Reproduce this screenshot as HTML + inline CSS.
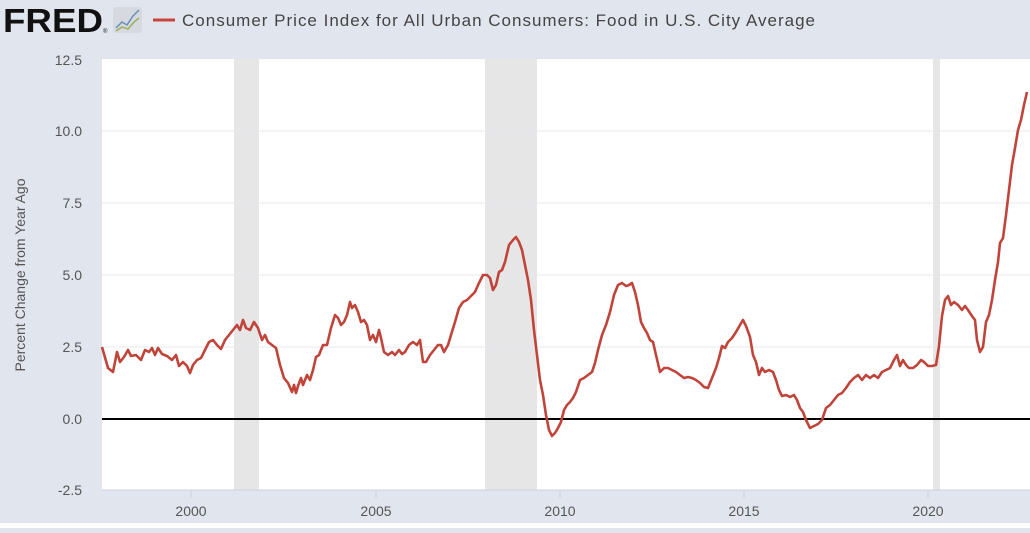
<!DOCTYPE html>
<html><head><meta charset="utf-8"><style>
body{margin:0;width:1030px;height:528px;background:#e1e5ee;font-family:"Liberation Sans",sans-serif;overflow:hidden}
</style></head><body>
<svg width="1030" height="528" viewBox="0 0 1030 528" xmlns="http://www.w3.org/2000/svg">
<rect width="1030" height="528" fill="#e1e5ee"/>
<rect x="0" y="523" width="1030" height="5" fill="#fff"/>
<text x="3" y="32" font-size="33" font-weight="bold" fill="#111" textLength="100" lengthAdjust="spacingAndGlyphs">FRED</text>
<text x="103" y="33" font-size="6" fill="#111">®</text>
<rect x="113" y="7" width="29" height="26" rx="3" fill="#d6d9df"/>
<polyline points="116,28 122,22 127,25 133,16 139,10" fill="none" stroke="#6b8fb5" stroke-width="1.5"/>
<polyline points="116,31 122,27 128,29 134,22 139,18" fill="none" stroke="#9bb05a" stroke-width="1.5"/>
<line x1="153" y1="20" x2="175" y2="20" stroke="#c9463d" stroke-width="3"/>
<text x="182" y="26" font-size="17" fill="#444" textLength="633" lengthAdjust="spacing">Consumer Price Index for All Urban Consumers: Food in U.S. City Average</text>
<rect x="102" y="59" width="928" height="431" fill="#fff"/>
<rect x="234" y="59" width="25" height="431" fill="#e6e6e6"/>
<rect x="485" y="59" width="52" height="431" fill="#e6e6e6"/>
<rect x="933" y="59" width="7" height="431" fill="#e6e6e6"/>
<g stroke="#e6e8ee" stroke-width="1">
<line x1="102" y1="131" x2="1030" y2="131"/><line x1="102" y1="203" x2="1030" y2="203"/>
<line x1="102" y1="275" x2="1030" y2="275"/><line x1="102" y1="347" x2="1030" y2="347"/>
</g>
<line x1="102" y1="490" x2="1030" y2="490" stroke="#ccd3e0"/>
<g stroke="#ccd3e0"><line x1="191" y1="490" x2="191" y2="498"/><line x1="376" y1="490" x2="376" y2="498"/><line x1="560" y1="490" x2="560" y2="498"/><line x1="744" y1="490" x2="744" y2="498"/><line x1="928" y1="490" x2="928" y2="498"/></g>
<line x1="102" y1="419" x2="1030" y2="419" stroke="#000" stroke-width="2"/>
<g font-size="14" fill="#555" text-anchor="end">
<text x="82" y="65">12.5</text><text x="82" y="136">10.0</text><text x="82" y="208">7.5</text><text x="82" y="280">5.0</text><text x="82" y="352">2.5</text><text x="82" y="424">0.0</text><text x="82" y="495">-2.5</text>
</g>
<g font-size="14" fill="#555" text-anchor="middle">
<text x="191" y="516">2000</text><text x="376" y="516">2005</text><text x="560" y="516">2010</text><text x="744" y="516">2015</text><text x="928" y="516">2020</text>
</g>
<text transform="translate(25,275) rotate(-90)" font-size="14" fill="#555" text-anchor="middle">Percent Change from Year Ago</text>
<polyline fill="none" stroke="#c0443a" stroke-width="2.6" stroke-linejoin="round" points="102,347 108,368 113,372 117,352 120,362 124,357 128,350 131,356 136,355 141,360 145,350 149,352 152,348 155,355 158,348 162,354 167,356 172,360 176,355 179,366 183,362 187,366 190,373 193,365 197,360 201,358 205,350 209,342 213,340 217,345 221,349 225,340 229,335 233,330 237,325 240,330 243,320 246,328 250,330 254,322 258,328 262,340 265,335 268,342 272,345 276,348 280,365 284,378 288,383 292,392 294,385 296,393 298,386 301,378 303,385 307,375 310,380 313,370 316,357 319,355 323,345 327,345 331,328 335,315 338,318 341,325 344,322 347,315 350,302 352,308 355,305 358,312 361,322 364,320 367,325 370,340 373,335 376,342 379,330 381,338 384,352 388,355 392,352 395,355 399,350 402,354 405,352 409,345 413,342 417,345 420,340 423,362 426,362 430,355 434,350 438,345 441,345 444,352 448,345 451,335 455,322 459,308 463,302 467,300 471,296 475,292 479,283 483,275 487,275 490,278 493,290 496,285 499,272 502,270 505,262 509,245 513,240 516,237 519,242 522,250 525,265 528,280 531,300 534,330 537,355 540,380 543,395 546,415 549,430 552,436 555,433 558,428 561,422 564,410 567,405 570,402 573,398 576,392 580,380 584,378 588,375 592,372 595,363 598,350 602,335 606,325 610,312 614,295 618,285 622,283 626,286 629,285 632,283 635,292 638,305 641,322 644,328 647,333 650,340 653,342 656,355 660,372 664,368 668,368 672,370 676,372 680,375 684,378 688,377 692,378 696,380 700,383 704,387 708,388 712,378 716,368 719,358 722,346 725,348 728,342 732,338 736,332 740,325 743,320 746,326 750,337 753,355 756,362 759,375 762,368 765,372 769,370 773,372 776,380 779,390 782,396 786,395 790,397 794,395 797,400 800,408 803,412 806,420 810,428 814,426 818,424 822,420 826,408 830,405 834,400 838,395 842,393 846,388 850,382 854,378 858,375 862,380 866,375 870,378 874,375 878,378 882,372 886,370 890,368 894,360 897,355 900,366 903,360 906,365 909,368 913,368 917,365 921,360 924,362 928,366 932,366 936,365 939,346 942,316 945,300 948,296 951,305 954,302 958,305 962,310 965,306 968,310 972,316 975,320 977,340 980,352 983,347 986,322 989,315 992,300 995,280 998,262 1000,243 1003,238 1006,215 1009,190 1012,165 1015,148 1018,130 1021,120 1024,105 1027,92"/>
</svg>
</body></html>
